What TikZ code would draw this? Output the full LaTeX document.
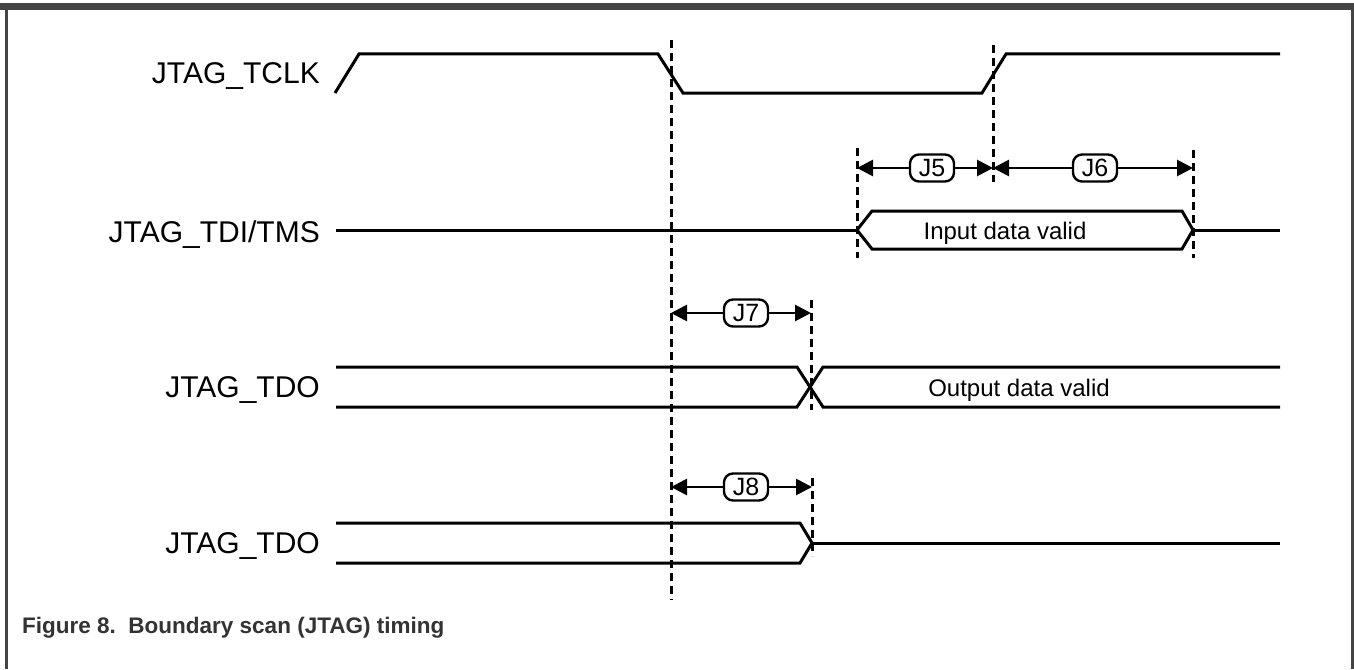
\documentclass[tikz,border=0pt]{standalone}
\usepackage{fontspec}
\setmainfont{Liberation Sans}
\usetikzlibrary{arrows.meta}
\definecolor{framegray}{RGB}{68,68,68}
\definecolor{captiongray}{RGB}{51,51,51}
\tikzset{
  signame/.style={
    anchor = base east,
    inner sep = 0pt,
    font = \fontsize{30}{36}\selectfont
  },
  wave/.style={
    line width = 3pt,
    line join = miter
  },
  marker/.style={
    line width = 3pt,
    dash pattern = on 8pt off 5pt
  },
  dim/.style={
    line width = 2.8pt,
    -{Triangle[length=16pt,width=16pt]}
  },
  timelabel/.style={
    draw,
    line width = 2.4pt,
    rounded corners = 9pt,
    fill = white,
    inner sep = 3pt,
    minimum width = 44pt,
    minimum height = 27pt,
    font = \fontsize{25}{30}\selectfont
  },
  datatext/.style={
    anchor = base,
    inner sep = 0pt,
    font = \fontsize{24}{28}\selectfont
  }
}
\begin{document}
\begin{tikzpicture}[x=1pt,y=-1pt]
  \useasboundingbox (0,0) rectangle (1354,669);
  % frame
  \fill[framegray] (0,3) rectangle (1354,10);
  \draw[framegray,line width=3pt] (6,10) -- (6,669);
  \draw[framegray,line width=3pt] (1352,10) -- (1352,669);

  % signal names
  \node[signame] (tclk) at (320,83) {JTAG\_TCLK};
  \node[signame] (tdi) at (320,242) {JTAG\_TDI/TMS};
  \node[signame] (tdoa) at (320,397) {JTAG\_TDO};
  \node[signame] (tdob) at (320,553) {JTAG\_TDO};

  % markers
  \coordinate (m0top) at (671,40);  \coordinate (m0bot) at (671,600);
  \coordinate (m1top) at (993,45);  \coordinate (m1bot) at (993,182);
  \coordinate (m2top) at (857,148); \coordinate (m2bot) at (857,258);
  \coordinate (m3top) at (1193,150); \coordinate (m3bot) at (1193,258);
  \coordinate (m4top) at (811,300); \coordinate (m4bot) at (811,410);
  \coordinate (m5top) at (812,478); \coordinate (m5bot) at (812,556);
  \foreach \m in {m0,m1,m2,m3,m4,m5}
    \draw[marker] (\m top) -- (\m bot);

  % waveforms
  \draw[wave] (335,93) -- (359,54) -- (658,54) -- (683,93) -- (982,93) -- (1006,54) -- (1280,54);

  \draw[wave] (336,230) -- (857,230);
  \draw[wave] (857,230) -- (872,211) -- (1182,211) -- (1193,230) -- (1182,249) -- (872,249) -- cycle;
  \draw[wave] (1193,230) -- (1280,230);
  \node[datatext] (indata) at (1005,239) {Input data valid};

  \draw[wave] (336,367) -- (797,367) -- (823,407) -- (1280,407);
  \draw[wave] (336,407) -- (797,407) -- (823,367) -- (1280,367);
  \node[datatext] (outdata) at (1019,396) {Output data valid};

  \draw[wave] (336,523) -- (800,523) -- (812,543) -- (800,563) -- (336,563);
  \draw[wave] (812,543) -- (1280,543);

  % timing parameters
  \coordinate (j5l) at (857,168); \coordinate (j5r) at (993,168);
  \coordinate (j6l) at (993,168); \coordinate (j6r) at (1193,168);
  \coordinate (j7l) at (671,313); \coordinate (j7r) at (811,313);
  \coordinate (j8l) at (671,487); \coordinate (j8r) at (812,487);
  \node[timelabel] (j5) at (932,168) {J5};
  \node[timelabel] (j6) at (1095,168) {J6};
  \node[timelabel] (j7) at (746,313) {J7};
  \node[timelabel] (j8) at (746,487) {J8};
  \foreach \j in {j5,j6,j7,j8} {
    \draw[dim] (\j) -- (\j l);
    \draw[dim] (\j) -- (\j r);
  }

  % caption
  \node[anchor=base west,inner sep=0pt,text=captiongray,font=\fontsize{22.5}{27}\selectfont\bfseries] (caption) at (22,633) {Figure 8.\ \ Boundary scan (JTAG) timing};
\end{tikzpicture}
\end{document}
